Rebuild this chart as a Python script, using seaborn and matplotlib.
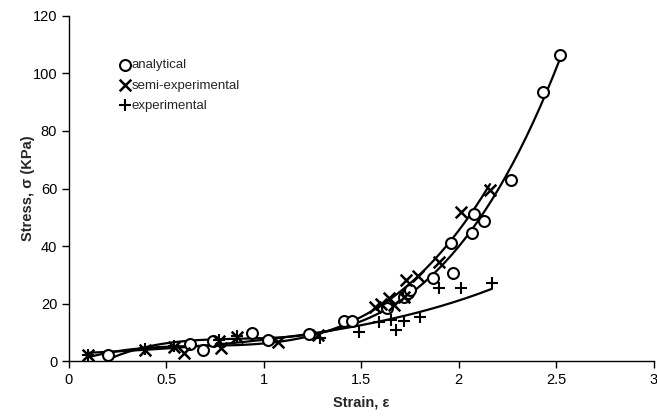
import numpy as np
import pandas as pd
import matplotlib
matplotlib.use("Agg")
import matplotlib.pyplot as plt
import seaborn as sns

# Stress-strain measurements (strain, stress in KPa)
analytical_strain = [0.20, 0.62, 0.69, 0.74, 0.94, 1.02, 1.23, 1.41, 1.45, 1.63,
                     1.72, 1.74, 1.75, 1.87, 1.96, 1.97, 2.07, 2.08, 2.13, 2.27,
                     2.43, 2.52]
analytical_stress = [2.3, 5.8, 3.8, 7.1, 9.9, 7.5, 9.6, 14.0, 14.0, 18.5,
                     22.4, 23.6, 24.7, 29.0, 41.2, 30.8, 44.4, 51.0, 48.7, 63.0,
                     93.6, 106.4]

semi_strain = [0.10, 0.39, 0.54, 0.59, 0.77, 0.78, 0.86, 1.07, 1.28, 1.57,
               1.60, 1.64, 1.67, 1.72, 1.73, 1.79, 1.90, 2.01, 2.16]
semi_stress = [2.0, 4.0, 5.0, 2.7, 7.0, 4.4, 8.5, 6.7, 9.0, 18.9,
               20.0, 21.8, 19.5, 22.4, 28.2, 29.6, 34.5, 51.9, 59.6]

exp_strain = [0.10, 0.39, 0.54, 0.77, 0.86, 1.29, 1.49, 1.59, 1.65, 1.68,
              1.72, 1.80, 1.90, 2.01, 2.17]
exp_stress = [2.2, 4.2, 5.3, 7.3, 8.8, 8.2, 10.2, 13.7, 14.3, 10.8,
              14.0, 15.2, 25.3, 25.3, 27.2]

x_ticks = [0, 0.5, 1, 1.5, 2, 2.5, 3]
y_ticks = [0, 20, 40, 60, 80, 100, 120]

sns.set_theme(style="ticks")
plt.rcParams["font.family"] = ["Liberation Sans", "DejaVu Sans"]

fig = plt.figure(figsize=(6.57, 4.18), dpi=100)
ax = fig.add_axes([0.105, 0.136, 0.89, 0.826])


def poly_trend(strain, stress, deg=3):
    """Polynomial trendline through a series, over its own strain range."""
    coeffs = np.polyfit(strain, stress, deg)
    xs = np.linspace(min(strain), max(strain), 200)
    return pd.DataFrame({"strain": xs, "stress": np.polyval(coeffs, xs)})


def exp_trend(strain, stress):
    """Exponential trendline y = a*exp(b*x), fitted in log space."""
    b, log_a = np.polyfit(strain, np.log(stress), 1)
    xs = np.linspace(min(strain), max(strain), 200)
    return pd.DataFrame({"strain": xs, "stress": np.exp(log_a + b * xs)})


for curve in [poly_trend(analytical_strain, analytical_stress),
              poly_trend(semi_strain, semi_stress),
              exp_trend(exp_strain, exp_stress)]:
    sns.lineplot(data=curve, x="strain", y="stress", ax=ax,
                 color="black", linewidth=1.6, zorder=2)

h1 = ax.scatter(analytical_strain, analytical_stress, marker="o", s=62,
                facecolors="white", edgecolors="black", linewidths=1.5,
                zorder=3, label="analytical")
h2 = ax.scatter(semi_strain, semi_stress, marker="x", s=70, color="black",
                linewidths=1.8, zorder=3, label="semi-experimental")
h3 = ax.scatter(exp_strain, exp_stress, marker="+", s=80, color="black",
                linewidths=1.5, zorder=3, label="experimental")

ax.set_xlim(0, 3)
ax.set_ylim(0, 120)
ax.set_xticks(x_ticks)
ax.set_xticklabels([f"{v:g}" for v in x_ticks])
ax.set_yticks(y_ticks)
ax.tick_params(axis="both", direction="out", length=5, width=1,
               labelsize=10.5, colors="black")
for side in ["top", "right"]:
    ax.spines[side].set_visible(False)
for side in ["left", "bottom"]:
    ax.spines[side].set_color("black")
    ax.spines[side].set_linewidth(1)

ax.set_xlabel("Strain, ε", fontsize=10.5, fontweight="bold", labelpad=6)
ax.set_ylabel("Stress, σ (KPa)", fontsize=10.5, fontweight="bold")
ax.yaxis.set_label_coords(-0.058, 0.5)

ax.legend(handles=[h1, h2, h3], loc="upper left",
          bbox_to_anchor=(0.075, 0.89), frameon=False, fontsize=9.5,
          handletextpad=0.05, labelspacing=0.6, borderaxespad=0,
          handlelength=1.0)

fig.savefig("out.png", dpi=100)
